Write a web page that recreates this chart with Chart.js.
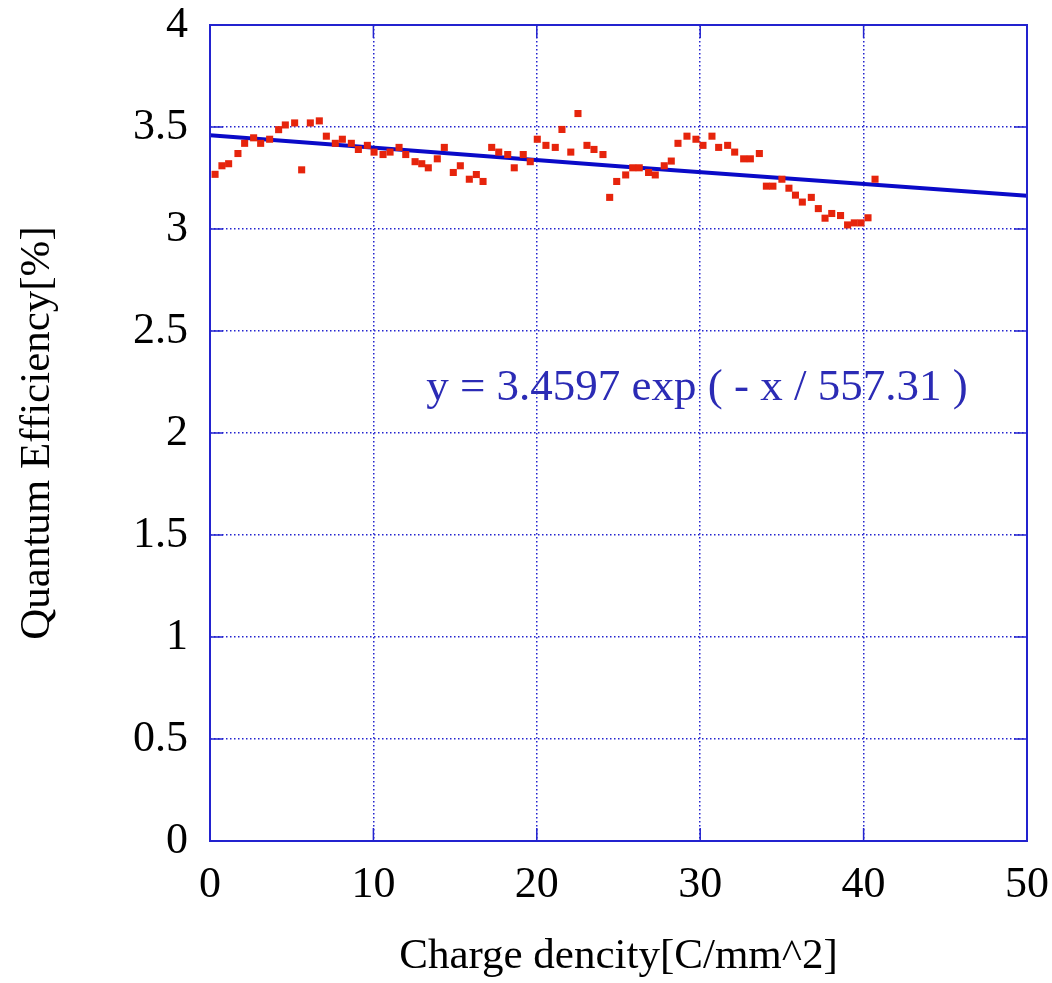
<!DOCTYPE html>
<html>
<head>
<meta charset="utf-8">
<script src="https://cdn.jsdelivr.net/npm/chart.js@4"></script>
<style>
  html, body { margin: 0; padding: 0; background: #fff; }
  #wrap { width: 1052px; height: 983px; }
</style>
</head>
<body>
<div id="wrap"><canvas id="qeChart" width="1052" height="983"></canvas></div>
<script>
// Measured points: charge density [C/mm^2] vs quantum efficiency [%]
const chargeX = [
  0.31, 0.73, 1.14, 1.71, 2.12, 2.67, 3.10, 3.65, 4.20, 4.61,
  5.18, 5.61, 6.14, 6.69, 7.12, 7.67, 8.10, 8.65, 9.08, 9.63,
  10.04, 10.59, 11.02, 11.57, 11.98, 12.55, 12.96, 13.36, 13.91, 14.34,
  14.89, 15.32, 15.87, 16.30, 16.71, 17.24, 17.67, 18.22, 18.62, 19.17,
  19.60, 20.03, 20.56, 21.13, 21.54, 22.08, 22.52, 23.07, 23.50, 24.05,
  24.46, 24.89, 25.44, 25.87, 26.27, 26.84, 27.25, 27.80, 28.23, 28.64,
  29.19, 29.74, 30.17, 30.72, 31.13, 31.68, 32.11, 32.66, 33.07, 33.62,
  34.05, 34.45, 35.00, 35.43, 35.83, 36.25, 36.80, 37.23, 37.64, 38.05,
  38.59, 39.02, 39.43, 39.84, 40.27, 40.70
];
const efficiency = [
  3.268, 3.31, 3.32, 3.37, 3.42, 3.447, 3.42, 3.44, 3.487, 3.51,
  3.52, 3.29, 3.52, 3.53, 3.455, 3.42, 3.44, 3.42, 3.39, 3.41,
  3.377, 3.365, 3.377, 3.40, 3.365, 3.33, 3.32, 3.30, 3.344, 3.40,
  3.277, 3.31, 3.244, 3.267, 3.233, 3.40, 3.377, 3.365, 3.30, 3.365,
  3.33, 3.44, 3.41, 3.40, 3.488, 3.377, 3.566, 3.41, 3.39, 3.365,
  3.155, 3.233, 3.265, 3.30, 3.30, 3.277, 3.265, 3.31, 3.333, 3.42,
  3.455, 3.44, 3.41, 3.455, 3.40, 3.41, 3.377, 3.344, 3.344, 3.37,
  3.21, 3.21, 3.244, 3.20, 3.166, 3.132, 3.155, 3.10, 3.053, 3.076,
  3.066, 3.02, 3.03, 3.03, 3.055, 3.244
];

// Fitted curve at a few x positions
const fitX = [0, 25, 50];
const fitY = [3.46, 3.308, 3.163];
const fitLabel = 'y = 3.4597 exp ( - x / 557.31 )';

// Axis ticks
const xTickValues = [0, 10, 20, 30, 40, 50];
const yTickLabels = ['0', '0.5', '1', '1.5', '2', '2.5', '3', '3.5', '4'];

const axisBlue = '#2323cf';
const serif = "'Liberation Serif', 'Times New Roman', serif";

// Frame, inner tick marks and fit equation
const framePlugin = {
  id: 'frame',
  afterDatasetsDraw(chart) {
    const { ctx, chartArea: a, scales } = chart;
    ctx.save();
    ctx.strokeStyle = axisBlue;
    ctx.lineWidth = 2;
    ctx.setLineDash([]);
    ctx.strokeRect(a.left, a.top, a.right - a.left, a.bottom - a.top);
    ctx.lineWidth = 1.5;
    ctx.beginPath();
    yTickLabels.forEach(lbl => {
      const py = scales.y.getPixelForValue(parseFloat(lbl));
      ctx.moveTo(a.left, py); ctx.lineTo(a.left + 13, py);
      ctx.moveTo(a.right, py); ctx.lineTo(a.right - 13, py);
    });
    xTickValues.forEach(v => {
      const px = scales.x.getPixelForValue(v);
      ctx.moveTo(px, a.bottom); ctx.lineTo(px, a.bottom - 13);
      ctx.moveTo(px, a.top); ctx.lineTo(px, a.top + 13);
    });
    ctx.stroke();
    ctx.fillStyle = '#2b2bb5';
    ctx.font = '45px ' + serif;
    ctx.textAlign = 'center';
    ctx.textBaseline = 'middle';
    ctx.fillText(fitLabel, scales.x.getPixelForValue(29.8), scales.y.getPixelForValue(2.22));
    ctx.restore();
  }
};

new Chart(document.getElementById('qeChart'), {
  type: 'scatter',
  data: {
    datasets: [
      {
        label: 'fit',
        type: 'line',
        data: fitX.map((x, i) => ({ x, y: fitY[i] })),
        borderColor: '#0a0ac8',
        borderWidth: 4,
        pointRadius: 0,
        fill: false,
        order: 2
      },
      {
        label: 'QE',
        data: chargeX.map((x, i) => ({ x, y: efficiency[i] })),
        pointStyle: 'rect',
        pointRadius: 5,
        backgroundColor: '#e6240c',
        borderWidth: 0,
        order: 1
      }
    ]
  },
  options: {
    responsive: false,
    animation: false,
    layout: { padding: { top: 25, right: 25, left: 0, bottom: 0 } },
    plugins: { legend: { display: false }, tooltip: { enabled: false } },
    scales: {
      x: {
        type: 'linear',
        min: 0, max: 50,
        afterBuildTicks: scale => { scale.ticks = xTickValues.map(v => ({ value: v })); },
        afterFit: scale => {
          scale.height = 142;
          scale.paddingLeft = 0;
          scale.paddingRight = 0;
        },
        grid: { color: axisBlue, lineWidth: 1.5, drawTicks: false },
        border: { display: false, dash: [1.5, 2.5] },
        ticks: { color: '#000', padding: 18, font: { family: serif, size: 44 } },
        title: {
          display: true, text: 'Charge dencity[C/mm^2]', color: '#000',
          font: { family: serif, size: 43 }, padding: { top: 10, bottom: 0 }
        }
      },
      y: {
        type: 'linear',
        min: 0, max: 4,
        afterBuildTicks: scale => { scale.ticks = yTickLabels.map(l => ({ value: parseFloat(l) })); },
        afterFit: scale => {
          scale.width = 210;
          scale.paddingTop = 0;
          scale.paddingBottom = 0;
        },
        grid: { color: axisBlue, lineWidth: 1.5, drawTicks: false },
        border: { display: false, dash: [1.5, 2.5] },
        ticks: {
          color: '#000', padding: 22, font: { family: serif, size: 44 },
          callback: (v, i) => yTickLabels[i]
        },
        title: {
          display: true, text: 'Quantum Efficiency[%]', color: '#000',
          font: { family: serif, size: 43 }, padding: { top: 12, bottom: 0 }
        }
      }
    }
  },
  plugins: [framePlugin]
});
</script>
</body>
</html>
